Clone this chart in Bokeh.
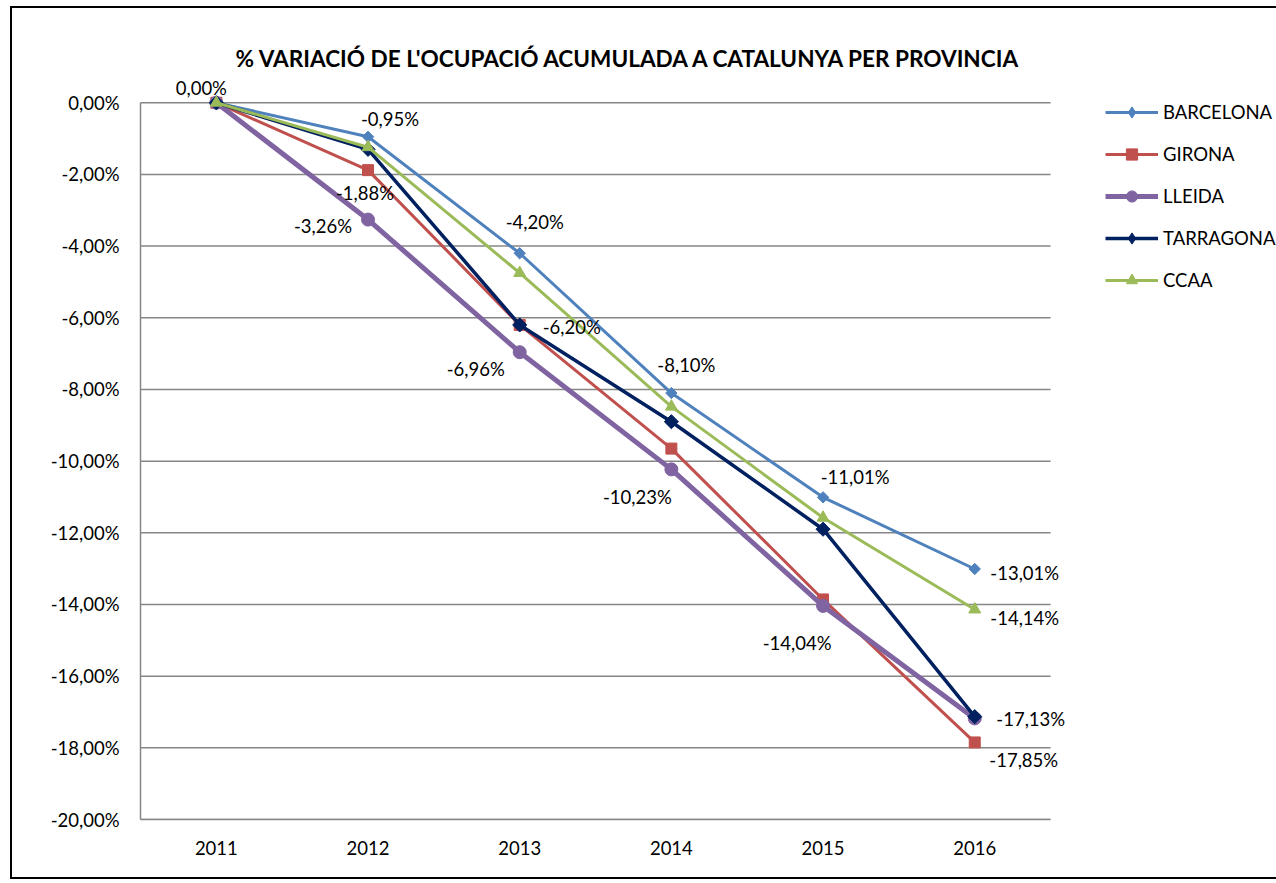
from bokeh.plotting import figure
from bokeh.models import (ColumnDataSource, Range1d, FixedTicker,
                          Legend, LegendItem, Title, LabelSet)
from bokeh.core.properties import value
from bokeh.embed import file_html
from bokeh.resources import INLINE
import math

years = ["2011", "2012", "2013", "2014", "2015", "2016"]
barcelona = [0.0, -0.95, -4.20, -8.10, -11.01, -13.01]
girona = [0.0, -1.88, -6.20, -9.65, -13.86, -17.85]
lleida = [0.0, -3.26, -6.96, -10.23, -14.04, -17.18]
tarragona = [0.0, -1.30, -6.20, -8.90, -11.90, -17.13]
ccaa = [0.0, -1.24, -4.75, -8.48, -11.58, -14.14]

y_ticks = [0, -2, -4, -6, -8, -10, -12, -14, -16, -18, -20]
y_tick_labels = ["0,00%", "-2,00%", "-4,00%", "-6,00%", "-8,00%", "-10,00%",
                 "-12,00%", "-14,00%", "-16,00%", "-18,00%", "-20,00%"]

title_text = "% VARIACIÓ  DE L'OCUPACIÓ ACUMULADA A CATALUNYA PER PROVINCIA"

series = {
    "BARCELONA": barcelona,
    "GIRONA": girona,
    "LLEIDA": lleida,
    "TARRAGONA": tarragona,
    "CCAA": ccaa,
}

# which data points carry a value label: (series, year index, dx, dy-down)
label_spec = [
    ("BARCELONA", 0, -15, -15),
    ("BARCELONA", 1, 22, -18),
    ("GIRONA", 1, -3, 23),
    ("LLEIDA", 1, -45, 6),
    ("BARCELONA", 2, 15, -31),
    ("GIRONA", 2, 52, 2),
    ("LLEIDA", 2, -44, 17),
    ("BARCELONA", 3, 15, -28),
    ("LLEIDA", 3, -34, 28),
    ("BARCELONA", 4, 32, -20),
    ("LLEIDA", 4, -26, 37),
    ("BARCELONA", 5, 50, 4),
    ("CCAA", 5, 50, 9),
    ("TARRAGONA", 5, 56, 2),
    ("GIRONA", 5, 49, 18),
]

FONT = "Lato"

xpos = list(range(len(years)))           # category slots on the x axis
x_lo, x_hi = xpos[0] - 0.5, xpos[-1] + 0.5  # plot-area extent (category edges)

p = figure(
    x_range=Range1d(x_lo, x_hi + 0.25),
    y_range=Range1d(-20, 0.9),
    frame_width=948, frame_height=749,
    min_border_left=128, min_border_top=62, min_border_right=176,
    min_border_bottom=58,
    output_backend="svg", toolbar_location=None,
)
p.outline_line_color = None
p.background_fill_color = "white"
p.border_fill_color = "white"
p.styles = {"border": "2px solid black", "margin-left": "10px", "margin-top": "6px"}

t = Title(text=title_text, align="left", offset=95,
          text_font=FONT, text_font_size="22.6px", text_font_style="bold",
          text_color="black", standoff=-2)
p.add_layout(t, "above")

# axes
p.yaxis.ticker = FixedTicker(ticks=y_ticks)
p.yaxis.major_label_overrides = {t_: l for t_, l in zip(y_ticks, y_tick_labels)}
p.yaxis.bounds = (min(y_ticks), max(y_ticks))
p.xaxis.ticker = FixedTicker(ticks=xpos)
p.xaxis.major_label_overrides = {i: y for i, y in zip(xpos, years)}
p.xaxis.bounds = (x_lo, x_hi)
for ax in (p.xaxis, p.yaxis):
    ax.axis_line_color = "#868686"
    ax.axis_line_width = 1.5
    ax.major_tick_line_color = None
    ax.minor_tick_line_color = None
    ax.major_label_text_font = FONT
    ax.major_label_text_font_size = "18.5px"
    ax.major_label_text_color = "black"
p.yaxis.major_label_standoff = 15
p.xaxis.major_label_standoff = 15
p.xgrid.grid_line_color = None
p.ygrid.grid_line_color = None

# horizontal gridlines limited to the plot area (category edges)
gsrc = ColumnDataSource(dict(x0=[x_lo] * len(y_ticks), x1=[x_hi] * len(y_ticks),
                             y=y_ticks))
p.segment(x0="x0", x1="x1", y0="y", y1="y", source=gsrc,
          line_color="#868686", line_width=1.5)

styles = {
    "BARCELONA": dict(color="#4F81BD", lw=3, marker="square", size=8,
                      angle=math.pi / 4, legend_marker="diamond"),
    "GIRONA": dict(color="#C0504D", lw=3, marker="square", size=11, angle=0,
                   legend_marker=None),
    "LLEIDA": dict(color="#8064A2", lw=5, marker="circle", size=13, angle=0,
                   legend_marker=None),
    "TARRAGONA": dict(color="#002060", lw=3.5, marker="square", size=10,
                      angle=math.pi / 4, legend_marker="diamond"),
    "CCAA": dict(color="#9BBB59", lw=3, marker="triangle", size=12, angle=0,
                 legend_marker=None),
}

items = []
for name, vals in series.items():
    st = styles[name]
    src = ColumnDataSource(dict(x=xpos, y=vals, year=years))
    r1 = p.line("x", "y", source=src, line_color=st["color"], line_width=st["lw"])
    r2 = p.scatter("x", "y", source=src, marker=st["marker"], size=st["size"],
                   angle=st["angle"], fill_color=st["color"], line_color=st["color"])
    if st["legend_marker"]:
        # legend-only marker (legend glyphs are drawn unrotated); zero size in the plot
        r2 = p.scatter("x", "y", source=src, marker=st["legend_marker"], size=0,
                       fill_color=st["color"], line_color=st["color"])
    items.append(LegendItem(label=name, renderers=[r1, r2]))

# data labels
lx, ly, lt, ldx, ldy = [], [], [], [], []
for name, i, dx, dy in label_spec:
    v = series[name][i]
    lx.append(xpos[i])
    ly.append(v)
    lt.append(("%.2f" % v).replace(".", ",") + "%")
    ldx.append(dx)
    ldy.append(-dy)
lsrc = ColumnDataSource(dict(x=lx, y=ly, text=lt, dx=ldx, dy=ldy))
labels = LabelSet(x="x", y="y", text="text", source=lsrc, x_offset="dx", y_offset="dy",
                  text_align="center", text_baseline="middle",
                  text_font=value(FONT), text_font_size=value("18.5px"),
                  text_color="black")
p.add_layout(labels)

legend = Legend(items=items, location=(17, 525), orientation="vertical",
                label_text_font=FONT, label_text_font_size="18.5px",
                label_text_color="black", glyph_width=53, glyph_height=28,
                label_height=22, spacing=14, label_standoff=5,
                padding=0, margin=0, border_line_color=None,
                background_fill_alpha=0)
p.add_layout(legend, "right")

open("out.html", "w").write(file_html(p, INLINE))
